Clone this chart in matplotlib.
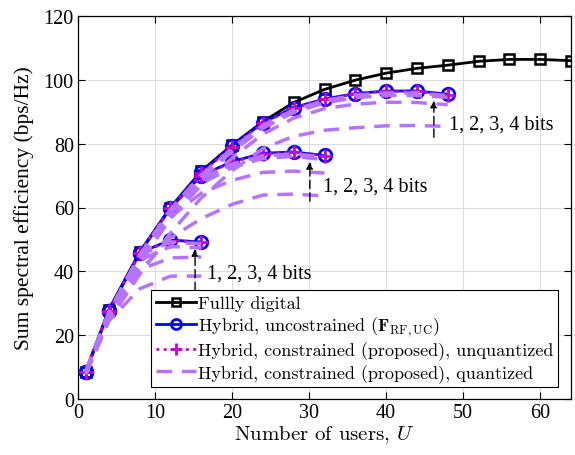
import matplotlib
matplotlib.use('Agg')
from matplotlib import pyplot as plt
from matplotlib.font_manager import FontProperties

# users
U_full = [1, 4, 8, 12, 16, 20, 24, 28, 32, 36, 40, 44, 48, 52, 56, 60, 64]
U_a = [1, 4, 8, 12, 16]
U_b = [1, 4, 8, 12, 16, 20, 24, 28, 32]
U_c = [1, 4, 8, 12, 16, 20, 24, 28, 32, 36, 40, 44, 48]

# fully digital
se_full = [8.6, 28, 46, 60, 71.4, 79.6, 86.9, 92.9, 97, 99.9, 102.1, 103.6, 104.6, 105.8, 106.4, 106.4, 106]

# hybrid, unconstrained
unc_a = [8.6, 27.5, 45.8, 49.8, 49.2]
unc_b = [8.6, 27.5, 45.8, 59.8, 70, 74.4, 77, 77.4, 76.3]
unc_c = [8.6, 27.6, 45.9, 60, 71, 79.3, 86.6, 91.3, 94, 95.7, 96.5, 96.5, 95.5]

# hybrid, constrained, unquantized
unq_a = [8.6, 27.4, 45.7, 49.6, 49.1]
unq_b = [8.6, 27.4, 45.7, 59.7, 69.8, 74.2, 76.8, 77.3, 76.2]
unq_c = [8.6, 27.5, 45.8, 59.9, 70.8, 79.1, 86.4, 91.1, 93.9, 95.6, 96.4, 96.4, 95.4]

# hybrid, constrained, quantized (1, 2, 3, 4 bits)
q_a = [
    [7.8, 24.5, 34.5, 38.5, 38.5],
    [8.2, 25.8, 40.5, 44.2, 44.5],
    [8.4, 26.6, 43.5, 47.8, 47.3],
    [8.5, 27.1, 45, 49.2, 48.6],
]
q_b = [
    [7.8, 24.5, 40, 50.5, 56.5, 61, 63.9, 64.2, 63.6],
    [8.2, 25.8, 42.5, 57, 64.5, 68.5, 71, 71.4, 70.8],
    [8.4, 26.6, 44, 58.3, 67.5, 72.5, 75.4, 76, 75],
    [8.5, 27.1, 45, 59.2, 69, 73.6, 76.2, 76.8, 75.8],
]
q_c = [
    [7.8, 24.5, 39, 52, 63, 71.5, 78.5, 82.3, 84.2, 85, 85.6, 85.7, 85.4],
    [8.2, 25.8, 42.5, 56.5, 67, 75.5, 83, 88, 91, 92.4, 93, 92.9, 92.2],
    [8.4, 26.6, 44, 58.5, 69, 77.5, 84.8, 89.8, 92.8, 94.4, 95.1, 95.1, 94.5],
    [8.5, 27.1, 45, 59.4, 70.2, 78.5, 85.8, 90.6, 93.5, 95.2, 95.9, 95.9, 95.1],
]

blue = '#0000FF'
magenta = '#CC00CC'
purple = '#B574FF'

fig = plt.figure(figsize=(5.75, 4.56), dpi=100)
ax = fig.add_axes([78 / 575, 56 / 456, 493 / 575, 383 / 456])

h_full, = ax.plot(U_full, se_full, '-s', color='black', lw=2, ms=7, mfc='none', mew=1.8, zorder=3)

for uu, vals in [(U_a, unc_a), (U_b, unc_b), (U_c, unc_c)]:
    h_unc, = ax.plot(uu, vals, '-o', color=blue, lw=2, ms=9, mfc='none', mew=2, zorder=4)

for uu, vals in [(U_a, unq_a), (U_b, unq_b), (U_c, unq_c)]:
    h_unq, = ax.plot(uu, vals, ':+', color=magenta, lw=2, ms=10, mew=2, zorder=5)

for group, uu in [(q_a, U_a), (q_b, U_b), (q_c, U_c)]:
    for vals in group:
        h_q, = ax.plot(uu, vals, '--', color=purple, lw=2.5, dashes=(4.5, 2.8), zorder=6)

# arrows and text
tfont = dict(family='Liberation Serif', fontsize=14.5)
for x, y0, y1, tx, ty in [(15.2, 34, 47, 16.8, 39.6), (30.1, 62, 74.3, 31.8, 66.6), (46.2, 82, 93.5, 48.2, 86)]:
    ax.annotate('', xy=(x, y1), xytext=(x, y0),
                arrowprops=dict(arrowstyle='-|>', color='black', lw=1, linestyle=(0, (6, 3)),
                                mutation_scale=10, shrinkA=0, shrinkB=0), zorder=7)
    ax.text(tx, ty, '1, 2, 3, 4 bits', va='center', ha='left', zorder=7, **tfont)

ax.set_xlim(0, 64)
ax.set_ylim(0, 120)
ax.set_xticks(range(0, 61, 10))
ax.set_yticks(range(0, 121, 20))
ax.grid(True, color='#DDDDDD', lw=0.8)
ax.set_axisbelow(True)
ax.tick_params(direction='in', top=True, right=True, length=5, width=0.8, labelsize=14.5, pad=3)
for lab in ax.get_xticklabels() + ax.get_yticklabels():
    lab.set_family('Liberation Serif')
for s in ax.spines.values():
    s.set_linewidth(0.9)

ax.set_xlabel('Number of users, $U$', family='cmr10', fontsize=15,
              math_fontfamily='cm', labelpad=1)
ax.set_ylabel('Sum spectral efficiency (bps/Hz)', family='Liberation Serif', fontsize=15.5, labelpad=7)

lp = FontProperties(family='cmr10', size=13, math_fontfamily='cm')
leg = ax.legend([h_full, h_unc, h_unq, h_q],
                ['Fullly digital',
                 r'Hybrid, uncostrained ($\mathbf{F}_{\mathrm{RF,UC}}$)',
                 'Hybrid, constrained (proposed), unquantized',
                 'Hybrid, constrained (proposed), quantized'],
                loc='lower right', bbox_to_anchor=(0.974, 0.031), borderaxespad=0,
                prop=lp, fancybox=False, framealpha=1, edgecolor='black',
                handlelength=2.2, handletextpad=0.15, labelspacing=0.2,
                borderpad=0.25, markerscale=0.8)
leg.get_frame().set_linewidth(0.8)
leg.set_zorder(10)

plt.savefig('out.png', dpi=100)
